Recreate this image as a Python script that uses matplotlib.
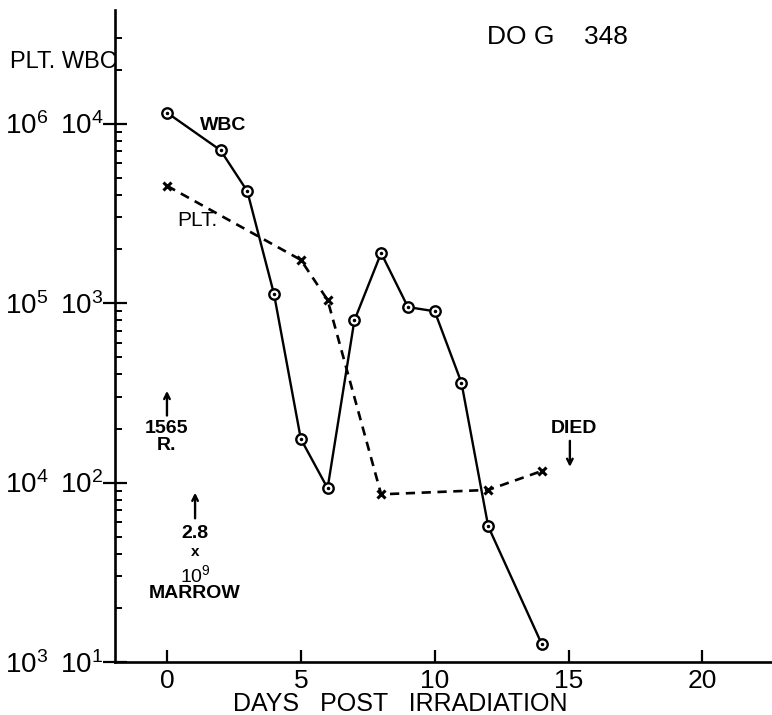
import numpy as np
import matplotlib
matplotlib.use("Agg")
import matplotlib.pyplot as plt
from matplotlib.ticker import FixedLocator, NullFormatter, NullLocator

# white cell counts (per mm3) and platelet counts by day after exposure
wbc_days = [0, 2, 3, 4, 5, 6, 7, 8, 9, 10, 11, 12, 14]
wbc_counts = [11500, 7100, 4200, 1120, 175, 93, 800, 1900, 950, 900, 360, 57, 12.6]

plt_days = [0, 5, 6, 8, 12, 14]
plt_counts = [450000, 174000, 104000, 8600, 9100, 11600]

x_ticks = [0, 5, 10, 15, 20]
wbc_ticks = [10, 100, 1000, 10000]
wbc_tick_labels = [r"$\mathregular{10^{1}}$", r"$\mathregular{10^{2}}$",
                   r"$\mathregular{10^{3}}$", r"$\mathregular{10^{4}}$"]
plt_ticks = [1e3, 1e4, 1e5, 1e6]
plt_tick_labels = [r"$\mathregular{10^{3}}$", r"$\mathregular{10^{4}}$",
                   r"$\mathregular{10^{5}}$", r"$\mathregular{10^{6}}$"]

plt.rcParams["font.family"] = ["Liberation Sans Narrow", "Liberation Sans", "DejaVu Sans"]

fig = plt.figure(figsize=(7.72, 7.15), dpi=100)
ax = fig.add_axes([0.149, 0.074, 0.851, 0.912])

ylo, yhi = 10, 42900
ax.set_yscale("log")
ax.set_xlim(-1.94, 22.6)
ax.set_ylim(ylo, yhi)

for s in ["top", "right"]:
    ax.spines[s].set_visible(False)
for s in ["left", "bottom"]:
    ax.spines[s].set_linewidth(1.9)

ax.xaxis.set_major_locator(FixedLocator(x_ticks))
ax.xaxis.set_minor_locator(NullLocator())
ax.tick_params(axis="x", direction="in", length=9, width=1.6, labelsize=19, pad=5)

minor = [m * 10.0 ** e for e in range(1, 4) for m in range(2, 10)] + [2e4, 3e4]
ax.yaxis.set_major_locator(FixedLocator(wbc_ticks))
ax.set_yticklabels(wbc_tick_labels)
ax.yaxis.set_minor_locator(FixedLocator(minor))
ax.yaxis.set_minor_formatter(NullFormatter())
ax.tick_params(axis="y", which="major", direction="inout", length=17, width=1.6,
               labelsize=20, pad=0)
ax.tick_params(axis="y", which="minor", direction="in", length=5, width=1.4)

# platelet scale: same decades shifted by 100
ax2 = ax.twinx()
ax2.set_yscale("log")
ax2.set_ylim(ylo * 100, yhi * 100)
ax2.yaxis.set_major_locator(FixedLocator(plt_ticks))
ax2.set_yticklabels(plt_tick_labels)
ax2.yaxis.set_minor_locator(NullLocator())
ax2.tick_params(axis="y", which="major", left=False, right=False,
                labelleft=True, labelright=False, length=0, labelsize=20, pad=48)
for s in ax2.spines.values():
    s.set_visible(False)

ax.plot(wbc_days, wbc_counts, color="black", lw=1.7, marker="o", ms=7.5,
        mfc="white", mec="black", mew=1.7, zorder=3)
ax.plot(wbc_days, wbc_counts, ls="none", marker=".", ms=3, color="black", zorder=4)
ax2.plot(plt_days, plt_counts, color="black", lw=1.9, ls=(0, (3.5, 2.5)),
         marker="x", ms=6, mew=2.2, zorder=3)

ax.text(2.1, 9700, "WBC", fontsize=14, fontweight="bold", ha="center", va="center")
ax.text(1.12, 2900, "PLT.", fontsize=15, ha="center", va="center")

# exposure and marrow infusion marks
ax.annotate("", xy=(0, 336), xytext=(0, 228),
            arrowprops=dict(arrowstyle="->", lw=1.7, color="black"))
ax.text(0, 222, "1565\nR.", fontsize=14, fontweight="bold", ha="center", va="top",
        linespacing=1.0)

ax.annotate("", xy=(1.05, 91), xytext=(1.05, 61),
            arrowprops=dict(arrowstyle="->", lw=1.7, color="black"))
ax.text(1.05, 52, "2.8", fontsize=14, fontweight="bold", ha="center", va="center")
ax.text(1.05, 41, "x", fontsize=11, fontweight="bold", ha="center", va="center")
ax.text(1.05, 30.5, r"$\mathregular{10^{9}}$", fontsize=14, ha="center", va="center")
ax.text(1.05, 24, "MARROW", fontsize=14, fontweight="bold", ha="center", va="center")

ax.text(15.2, 199, "DIED", fontsize=14, fontweight="bold", ha="center", va="center")
ax.annotate("", xy=(15.05, 118), xytext=(15.05, 177),
            arrowprops=dict(arrowstyle="->", lw=1.7, color="black"))

fig.text(0.013, 0.913, "PLT. WBC", fontsize=17, ha="left", va="center")
fig.text(0.631, 0.948, "DO G    348", fontsize=19, ha="left", va="center")
fig.text(400 / 772, 0.016, "DAYS   POST   IRRADIATION", fontsize=18,
         ha="center", va="center")

fig.savefig("out.png", dpi=100)
